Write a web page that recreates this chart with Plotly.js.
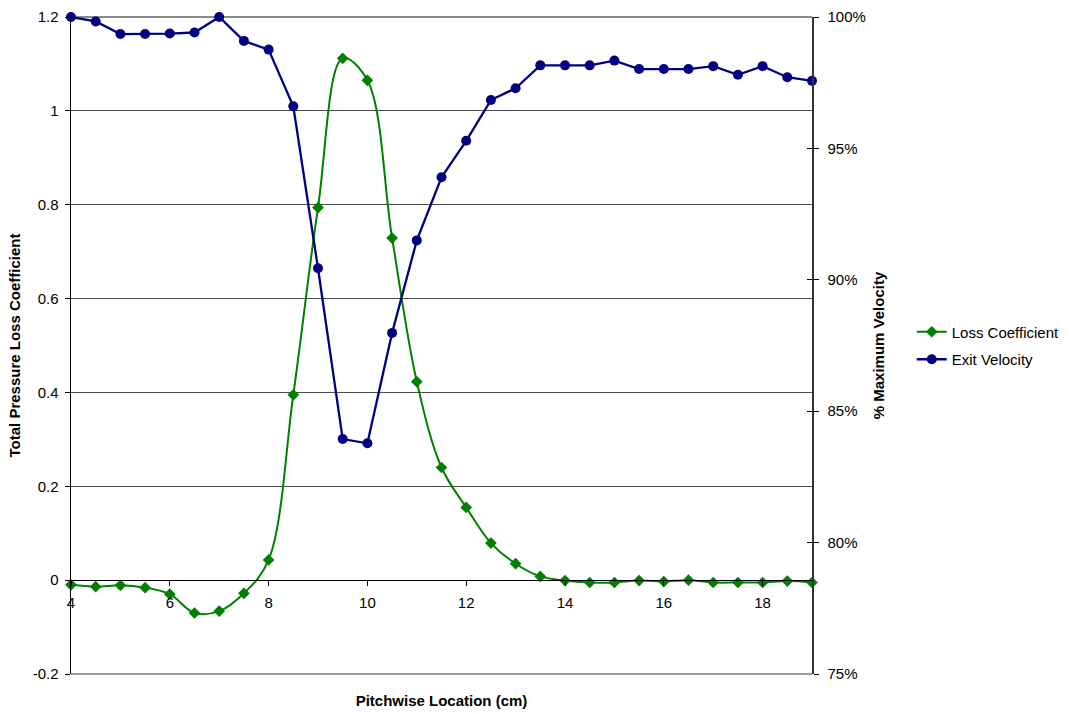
<!DOCTYPE html>
<html>
<head>
<meta charset="utf-8">
<script src="https://cdn.plot.ly/plotly-3.0.1.min.js"></script>
<style>html,body{margin:0;padding:0;background:#fff;}#chart{width:1069px;height:714px;}</style>
</head>
<body>
<div id="chart"></div>
<script>
// Pitchwise location (cm)
const pitch = [4,4.5,5,5.5,6,6.5,7,7.5,8,8.5,9,9.5,10,10.5,11,11.5,12,12.5,13,13.5,14,14.5,15,15.5,16,16.5,17,17.5,18,18.5,19];
// Total pressure loss coefficient (left axis)
const lossCoef = [-0.010,-0.014,-0.011,-0.016,-0.030,-0.070,-0.066,-0.028,0.043,0.395,0.794,1.112,1.065,0.729,0.423,0.240,0.155,0.079,0.035,0.008,-0.001,-0.005,-0.005,-0.001,-0.003,0.000,-0.005,-0.005,-0.005,-0.002,-0.005];
// Exit velocity, % of maximum (right axis)
const exitVel = [100.0,99.83,99.35,99.35,99.37,99.41,100.0,99.09,98.76,96.6,90.44,83.94,83.78,87.98,91.5,93.9,95.29,96.84,97.29,98.16,98.16,98.16,98.34,98.02,98.02,98.02,98.13,97.80,98.13,97.71,97.57];

const xTicks = [4,6,8,10,12,14,16,18];
const yTicks = [-0.2,0,0.2,0.4,0.6,0.8,1.0,1.2];
const yTickText = ['-0.2','0','0.2','0.4','0.6','0.8','1','1.2'];
const y2Ticks = [75,80,85,90,95,100];
const y2TickText = ['75%','80%','85%','90%','95%','100%'];

const seriesNames = ['Loss Coefficient','Exit Velocity'];
const titles = {x:'Pitchwise Location (cm)', y:'Total Pressure Loss Coefficient', y2:'% Maximum Velocity'};

const FONT = 'Liberation Sans, Arial, sans-serif';
const GREEN = '#008000', NAVY = '#000080';

const traces = [
  {x: pitch, y: lossCoef, name: seriesNames[0], type:'scatter', mode:'lines+markers', legendgroup:'a',
   line:{color:GREEN, width:2, shape:'spline', smoothing:1},
   marker:{symbol:'diamond', size:9, color:GREEN}, cliponaxis:false, xaxis:'x', yaxis:'y'},
  {x: pitch, y: exitVel, name: seriesNames[1], type:'scatter', mode:'lines+markers', legendgroup:'b',
   line:{color:NAVY, width:2.3},
   marker:{symbol:'circle', size:10, color:NAVY}, cliponaxis:false, xaxis:'x', yaxis:'y2'},
  // invisible carrier so the title axis (x2) and inside-tick axis (y3) are drawn
  {x: pitch, y: exitVel, type:'scatter', mode:'lines', opacity:0, showlegend:false, hoverinfo:'skip',
   line:{width:0}, xaxis:'x2', yaxis:'y3'}
];

const layout = {
  width:1069, height:714,
  margin:{l:71, r:257, t:17, b:40, autoexpand:false},
  paper_bgcolor:'#fff', plot_bgcolor:'#fff',
  font:{family:FONT, size:15, color:'#000'},
  showlegend:true,
  legend:{x:1.1346, y:0.5, xanchor:'left', yanchor:'middle', font:{size:15}, bgcolor:'rgba(0,0,0,0)',
          traceorder:'grouped', tracegroupgap:5},
  xaxis:{range:[4,19], tickvals:xTicks, ticks:'outside', ticklen:5, tickcolor:'#000',
         showline:true, linecolor:'#000', linewidth:1, showgrid:false, zeroline:false,
         anchor:'free', position:1/7, ticklabelstandoff:4, automargin:false},
  xaxis2:{range:[4,19], overlaying:'x', anchor:'y', side:'bottom', showticklabels:false, ticks:'',
          showline:false, showgrid:false, zeroline:false, automargin:false,
          title:{text:titles.x, font:{size:15, family:FONT, weight:'bold'}, standoff:21}},
  yaxis:{range:[-0.2,1.2], tickvals:yTicks, ticktext:yTickText, ticks:'outside', ticklen:5, tickcolor:'#000',
         showline:true, linecolor:'#000', linewidth:1.5, showgrid:true, gridcolor:'#4d4d4d', gridwidth:1,
         zeroline:false, ticklabelstandoff:3, automargin:false,
         title:{text:titles.y, font:{size:15, family:FONT, weight:'bold'}, standoff:8}},
  yaxis2:{range:[75,100], tickvals:y2Ticks, ticktext:y2TickText, overlaying:'y', side:'right', anchor:'x',
          ticks:'outside', ticklen:5, tickcolor:'#000', showline:true, linecolor:'#333', linewidth:1.5,
          showgrid:false, zeroline:false, ticklabelstandoff:6, automargin:false,
          title:{text:titles.y2, font:{size:15, family:FONT, weight:'bold'}, standoff:8}},
  yaxis3:{range:[75,100], tickvals:y2Ticks, overlaying:'y', side:'right', anchor:'x2',
          ticks:'inside', ticklen:5, tickcolor:'#000', showticklabels:false, showline:false,
          showgrid:false, zeroline:false, automargin:false},
  shapes:[
    {type:'line', xref:'paper', yref:'paper', x0:0, x1:1, y0:1, y1:1, line:{color:'#8c8c8c', width:2}, layer:'below'},
    {type:'line', xref:'paper', yref:'paper', x0:0, x1:1, y0:0, y1:0, line:{color:'#999', width:2}, layer:'below'}
  ]
};

Plotly.newPlot('chart', traces, layout, {displayModeBar:false, staticPlot:true});
</script>
</body>
</html>
